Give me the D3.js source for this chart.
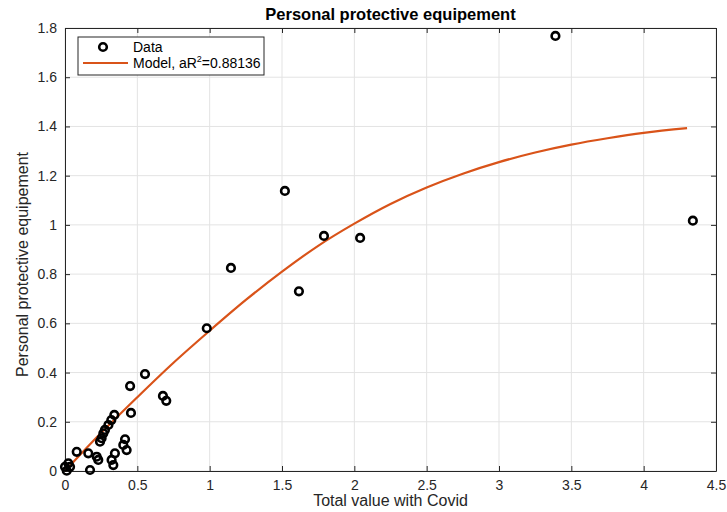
<!DOCTYPE html>
<html>
<head>
<meta charset="utf-8">
<script src="https://cdn.jsdelivr.net/npm/d3@7"></script>
<style>
  body { margin: 0; background: #fff; }
  svg { display: block; font-family: "Liberation Sans", Arial, sans-serif; }
</style>
</head>
<body>
<div id="chart"></div>
<script>
// Observed points (Total value with Covid vs Personal protective equipement)
const dataX = [3.39, 4.34, 1.52, 1.147, 1.79, 1.617, 2.04, 0.98, 0.553, 0.45,
  0.677, 0.70, 0.456, 0.341, 0.32, 0.30, 0.276, 0.265, 0.253, 0.242,
  0.415, 0.403, 0.426, 0.081, 0.161, 0.219, 0.23, 0.345, 0.322, 0.334,
  0.173, 0.023, 0.0, 0.035, 0.012];
const dataY = [1.768, 1.017, 1.138, 0.825, 0.955, 0.73, 0.947, 0.58, 0.394, 0.345,
  0.305, 0.285, 0.236, 0.228, 0.207, 0.187, 0.167, 0.153, 0.133, 0.119,
  0.129, 0.106, 0.085, 0.078, 0.072, 0.058, 0.045, 0.072, 0.045, 0.024,
  0.004, 0.031, 0.017, 0.017, 0.001];

// Fitted model curve
const modelX = [0, 0.25, 0.5, 0.75, 1, 1.25, 1.5, 1.75, 2, 2.25, 2.5, 2.75, 3, 3.25, 3.5, 3.75, 4, 4.3];
const modelY = [0, 0.155, 0.30, 0.44, 0.57, 0.695, 0.81, 0.915, 1.005, 1.085, 1.152, 1.208, 1.255, 1.294, 1.326, 1.352, 1.374, 1.393];

const xTicks = [0, 0.5, 1, 1.5, 2, 2.5, 3, 3.5, 4, 4.5];
const yTicks = [0, 0.2, 0.4, 0.6, 0.8, 1, 1.2, 1.4, 1.6, 1.8];

const W = 727, H = 512;
const margin = { top: 28, right: 11, bottom: 41, left: 65 };
const width = W - margin.left - margin.right;
const height = H - margin.top - margin.bottom;
const axisColor = '#262626';

const svg = d3.select('#chart').append('svg')
  .attr('width', W)
  .attr('height', H);

const g = svg.append('g')
  .attr('transform', `translate(${margin.left},${margin.top})`);

const x = d3.scaleLinear().domain([0, 4.5]).range([0, width]);
const y = d3.scaleLinear().domain([0, 1.8]).range([height, 0]);

// grid
g.append('g').selectAll('line')
  .data(xTicks)
  .join('line')
  .attr('x1', d => x(d)).attr('x2', d => x(d))
  .attr('y1', 0).attr('y2', height)
  .attr('stroke', '#e3e3e3');
g.append('g').selectAll('line')
  .data(yTicks)
  .join('line')
  .attr('y1', d => y(d)).attr('y2', d => y(d))
  .attr('x1', 0).attr('x2', width)
  .attr('stroke', '#e3e3e3');

// axes (MATLAB style: ticks inside, box all round)
const fmt = d => String(d);
const styleAxis = sel => {
  sel.select('.domain').attr('stroke', axisColor);
  sel.selectAll('.tick line').attr('stroke', axisColor);
  sel.selectAll('text').attr('fill', axisColor).attr('font-size', '14px');
};
g.append('g')
  .attr('transform', `translate(0,${height})`)
  .call(d3.axisBottom(x).tickValues(xTicks).tickFormat(fmt).tickSizeInner(-5).tickSizeOuter(0).tickPadding(9))
  .call(styleAxis);
g.append('g')
  .call(d3.axisTop(x).tickValues(xTicks).tickFormat('').tickSizeInner(-5).tickSizeOuter(0))
  .call(styleAxis);
g.append('g')
  .call(d3.axisLeft(y).tickValues(yTicks).tickFormat(fmt).tickSizeInner(-5).tickSizeOuter(0).tickPadding(8))
  .call(styleAxis);
g.append('g')
  .attr('transform', `translate(${width},0)`)
  .call(d3.axisRight(y).tickValues(yTicks).tickFormat('').tickSizeInner(-5).tickSizeOuter(0))
  .call(styleAxis);

// model curve
const line = d3.line()
  .x((d, i) => x(modelX[i]))
  .y(d => y(d))
  .curve(d3.curveMonotoneX);
g.append('path')
  .datum(modelY)
  .attr('fill', 'none')
  .attr('stroke', '#D95319')
  .attr('stroke-width', 2.2)
  .attr('d', line);

// data points
g.append('g').selectAll('circle')
  .data(dataX)
  .join('circle')
  .attr('cx', d => x(d))
  .attr('cy', (d, i) => y(dataY[i]))
  .attr('r', 3.8)
  .attr('fill', 'none')
  .attr('stroke', '#000')
  .attr('stroke-width', 2.6);

// title & labels
svg.append('text')
  .attr('x', margin.left + width / 2)
  .attr('y', 20)
  .attr('text-anchor', 'middle')
  .attr('font-size', '16.5px')
  .attr('font-weight', 'bold')
  .attr('fill', '#000')
  .text('Personal protective equipement');

svg.append('text')
  .attr('x', margin.left + width / 2)
  .attr('y', 506)
  .attr('text-anchor', 'middle')
  .attr('font-size', '16px')
  .attr('fill', axisColor)
  .text('Total value with Covid');

svg.append('text')
  .attr('transform', `translate(28,${margin.top + height / 2 + 15}) rotate(-90)`)
  .attr('text-anchor', 'middle')
  .attr('font-size', '16px')
  .attr('fill', axisColor)
  .text('Personal protective equipement');

// legend
const lg = svg.append('g').attr('transform', 'translate(78,37)');
lg.append('rect')
  .attr('width', 186).attr('height', 38)
  .attr('fill', '#fff')
  .attr('stroke', axisColor)
  .attr('stroke-width', 1);
lg.append('circle')
  .attr('cx', 25).attr('cy', 10)
  .attr('r', 3.8)
  .attr('fill', 'none').attr('stroke', '#000').attr('stroke-width', 2.6);
lg.append('line')
  .attr('x1', 5).attr('x2', 50)
  .attr('y1', 26).attr('y2', 26)
  .attr('stroke', '#D95319').attr('stroke-width', 2.2);
lg.append('text')
  .attr('x', 55).attr('y', 15)
  .attr('font-size', '14px').attr('fill', '#000')
  .text('Data');
const mt = lg.append('text')
  .attr('x', 55).attr('y', 31)
  .attr('font-size', '14px').attr('fill', '#000');
mt.append('tspan').text('Model, aR');
mt.append('tspan').attr('font-size', '9px').attr('dy', -6).text('2');
mt.append('tspan').attr('dy', 6).text('=0.88136');
</script>
</body>
</html>
